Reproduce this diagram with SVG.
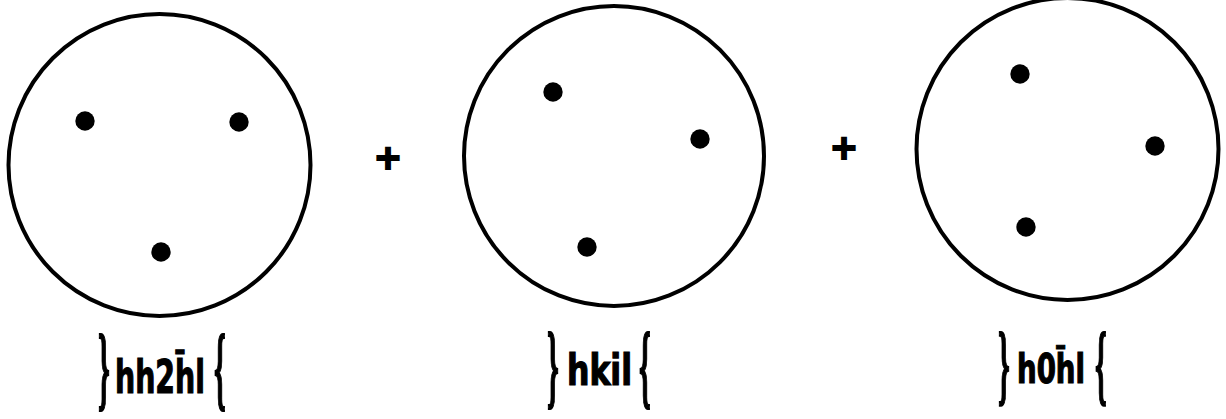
<svg xmlns="http://www.w3.org/2000/svg" width="1226" height="419" viewBox="0 0 1226 419">
<style>
.ring{fill:none;stroke:#000;stroke-width:4}
.dot{fill:#000}
.lbl{font-family:"DejaVu Sans Condensed","DejaVu Sans",sans-serif;font-weight:bold;fill:#000;stroke:#000;stroke-width:1.2}
.br{font-family:"Liberation Serif",serif;font-weight:bold;font-size:30px;fill:#000;stroke:#000;stroke-width:0.6;text-anchor:middle}
.plus{font-family:"DejaVu Sans",sans-serif;font-weight:bold;font-size:34px;text-anchor:middle;fill:#000;stroke:#000;stroke-width:2}
</style>
<rect width="1226" height="419" fill="#fff"/>
<g id="node1">
<circle class="ring" cx="159.5" cy="165" r="151"/>
<circle class="dot" cx="85" cy="121" r="9.7"/>
<circle class="dot" cx="239" cy="122" r="9.7"/>
<circle class="dot" cx="161" cy="252" r="9.7"/>
<text class="br" transform="translate(104,399) scale(1,3.1)">}</text>
<text class="lbl" font-size="46" transform="translate(115,393) scale(0.684,1)">hh2h̄l</text>
<text class="br" transform="translate(220,399) scale(1,3.1)">{</text>
</g>
<g id="node2">
<circle class="ring" cx="614" cy="156" r="150"/>
<circle class="dot" cx="553" cy="92" r="9.7"/>
<circle class="dot" cx="700" cy="139" r="9.7"/>
<circle class="dot" cx="587" cy="247" r="9.7"/>
<text class="br" transform="translate(553,397) scale(1,3.1)">}</text>
<text class="lbl" font-size="42" transform="translate(567,385) scale(0.834,1)">hkil</text>
<text class="br" transform="translate(645,397) scale(1,3.1)">{</text>
</g>
<g id="node3">
<circle class="ring" cx="1067.5" cy="149" r="151"/>
<circle class="dot" cx="1020" cy="74" r="9.7"/>
<circle class="dot" cx="1155" cy="146" r="9.7"/>
<circle class="dot" cx="1026" cy="227" r="9.7"/>
<text class="br" transform="translate(1004,394) scale(1,2.95)">}</text>
<text class="lbl" font-size="40" transform="translate(1017,383) scale(0.767,1)">h0h̄l</text>
<text class="br" transform="translate(1101,394) scale(1,2.95)">{</text>
</g>
<g id="connectors">
<text class="plus" x="388" y="169">+</text>
<text class="plus" x="844" y="159">+</text>
</g>
</svg>
